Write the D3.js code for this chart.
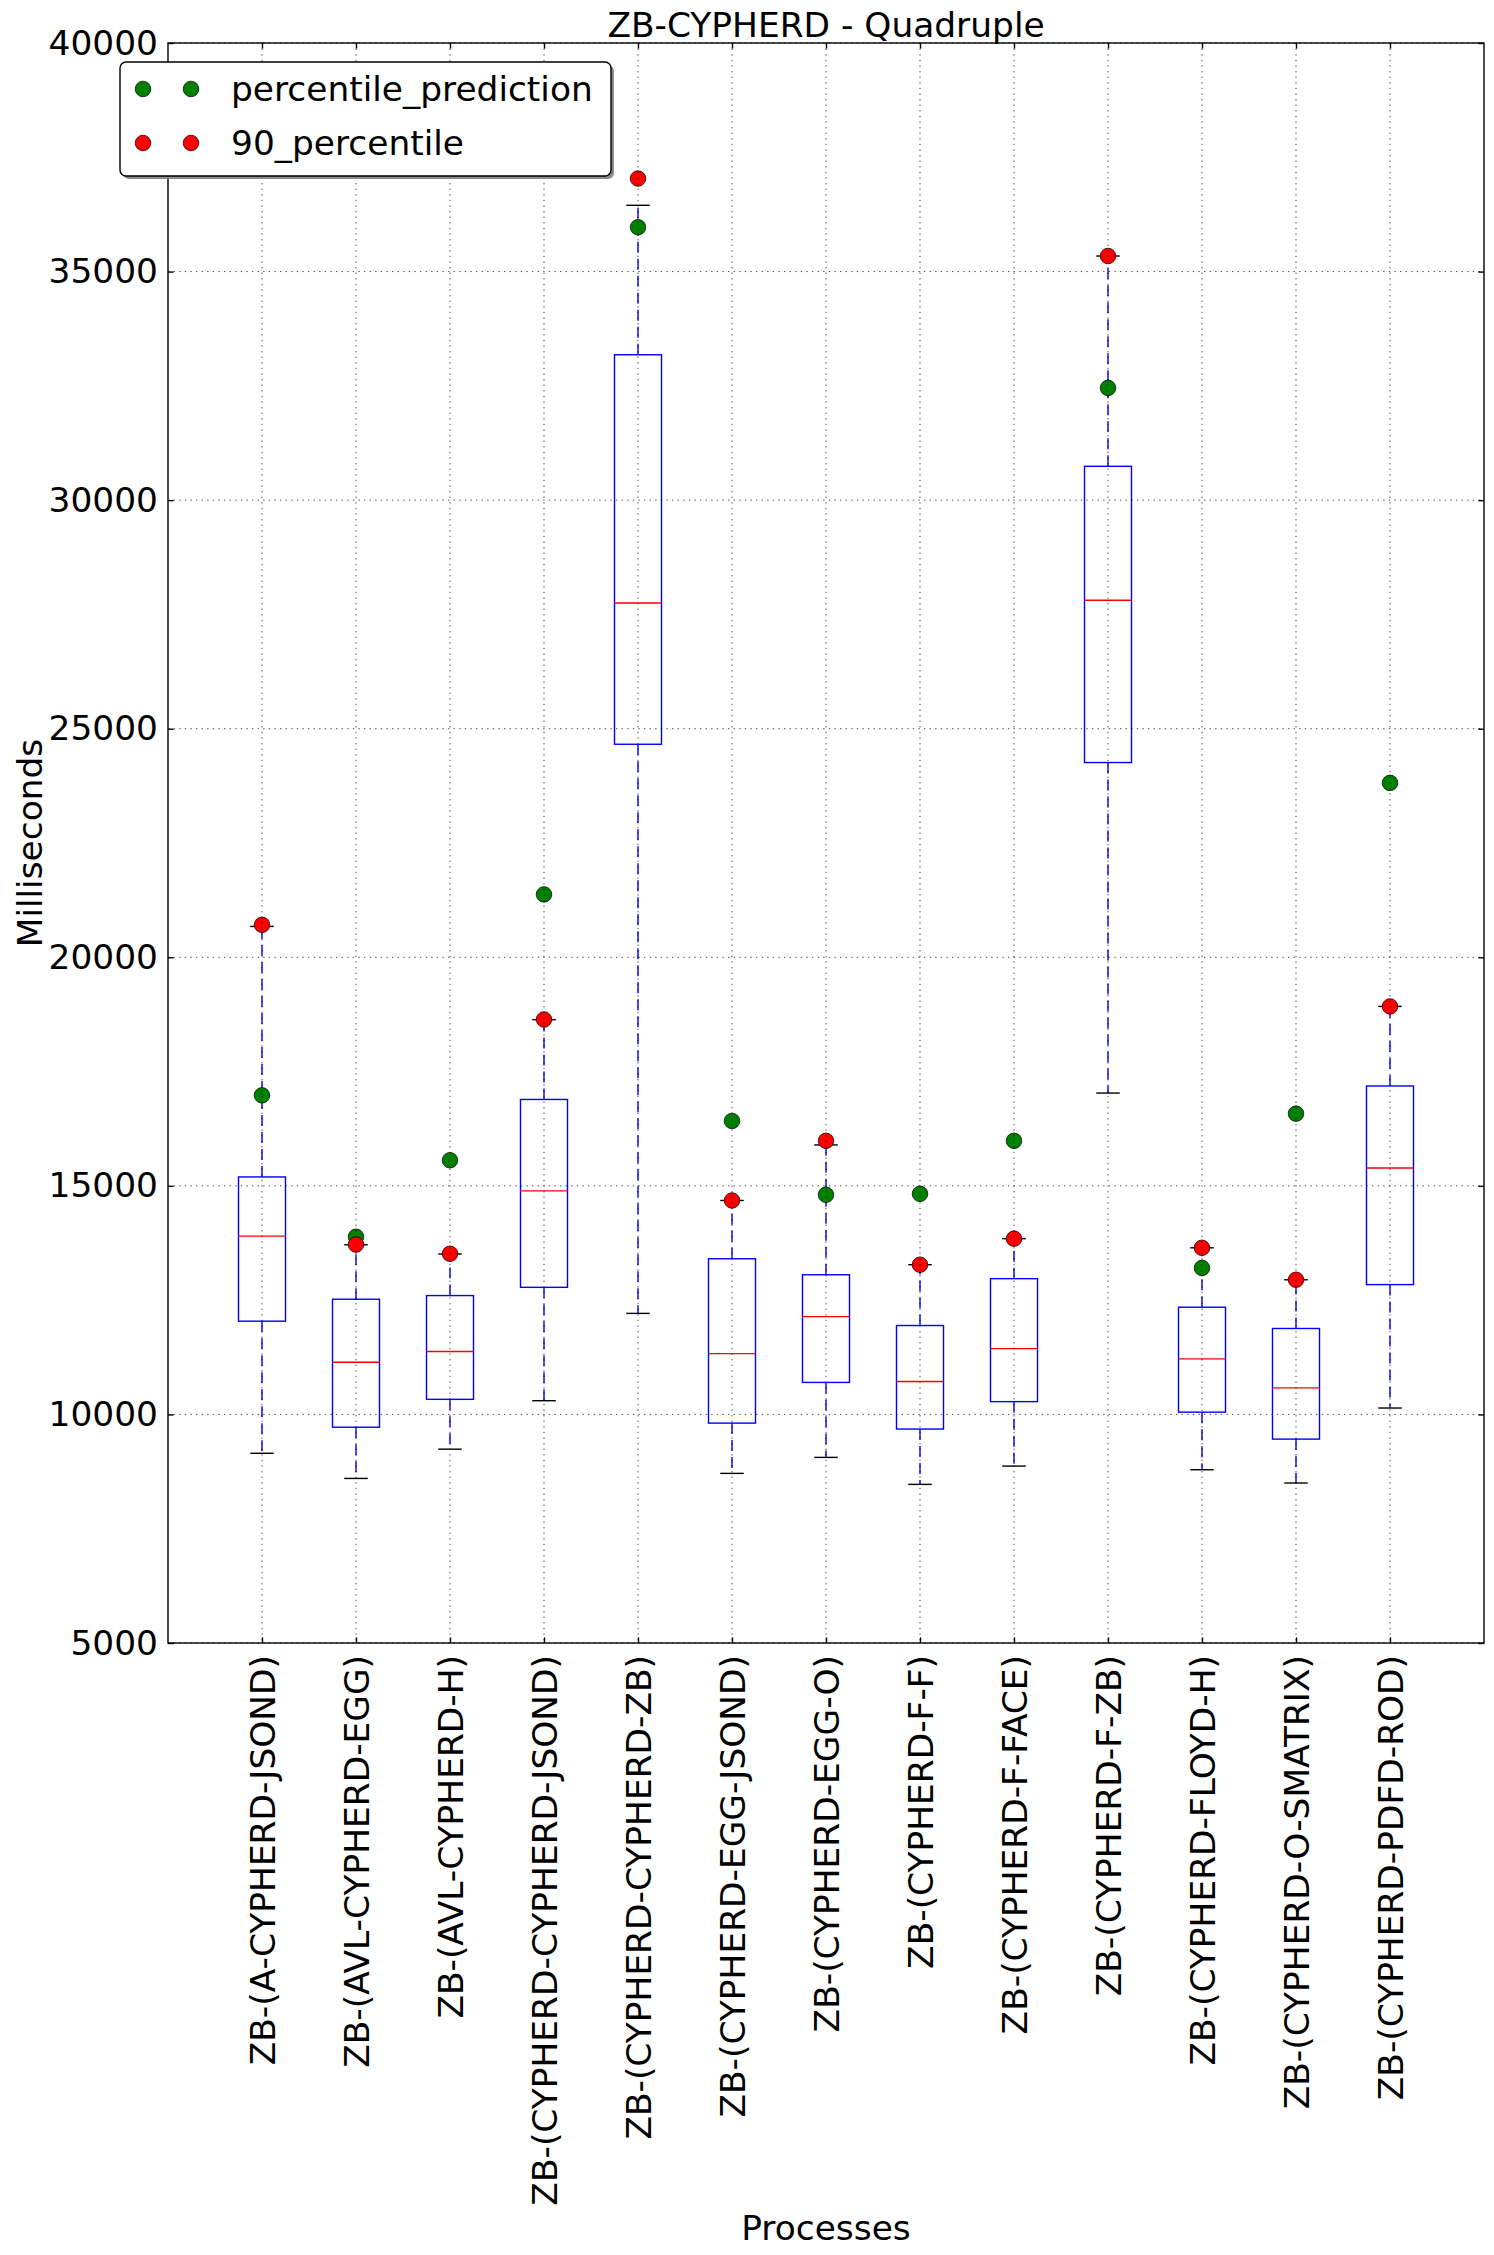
<!DOCTYPE html>
<html>
<head>
<meta charset="utf-8">
<script src="https://cdn.jsdelivr.net/npm/d3@7"></script>
<style>
  html, body { margin: 0; padding: 0; background: #fff; }
  svg { display: block; }
  text { font-family: "DejaVu Sans", sans-serif; fill: #000; }
</style>
</head>
<body>
<svg id="chart" width="1494" height="2255"></svg>
<script>
// ---- data ----
const categories = [
  "ZB-(A-CYPHERD-JSOND)",
  "ZB-(AVL-CYPHERD-EGG)",
  "ZB-(AVL-CYPHERD-H)",
  "ZB-(CYPHERD-CYPHERD-JSOND)",
  "ZB-(CYPHERD-CYPHERD-ZB)",
  "ZB-(CYPHERD-EGG-JSOND)",
  "ZB-(CYPHERD-EGG-O)",
  "ZB-(CYPHERD-F-F)",
  "ZB-(CYPHERD-F-FACE)",
  "ZB-(CYPHERD-F-ZB)",
  "ZB-(CYPHERD-FLOYD-H)",
  "ZB-(CYPHERD-O-SMATRIX)",
  "ZB-(CYPHERD-PDFD-ROD)"
];
const whiskerLow  = [9150, 8600, 9240, 10300, 12210, 8710, 9060, 8470, 8870, 17030, 8790, 8500, 10140];
const q1          = [12040, 9720, 10330, 12780, 24660, 9810, 10700, 9680, 10280, 24260, 10050, 9460, 12840];
const median      = [13900, 11140, 11375, 14890, 27750, 11330, 12140, 10720, 11440, 27810, 11215, 10580, 15390];
const q3          = [15195, 12520, 12600, 16890, 33180, 13405, 13055, 11945, 12970, 30740, 12345, 11880, 17185];
const whiskerHigh = [20675, 13710, 13510, 18635, 36450, 14680, 15895, 13275, 13845, 35340, 13645, 12945, 18925];
const prediction  = [16980, 13885, 15560, 21375, 35970, 16420, 14805, 14825, 15985, 32455, 13205, 16580, 23815];
const p90         = [20710, 13715, 13515, 18640, 37035, 14680, 15985, 13275, 13845, 35340, 13645, 12945, 18925];
const yTicks = [5000, 10000, 15000, 20000, 25000, 30000, 35000, 40000];
const titleText = "ZB-CYPHERD - Quadruple";
const xLabel = "Processes";
const yLabel = "Milliseconds";
const legendLabels = ["percentile_prediction", "90_percentile"];

// ---- layout ----
const L = 168, R = 1484, T = 43, B = 1643;
const FS = 34.4;
const LW = 1.4;
const svg = d3.select("#chart");

const x = d3.scaleLinear().domain([0, 14]).range([L, R]);
const y = d3.scaleLinear().domain([5000, 40000]).range([B, T]);

const idx = d3.range(categories.length);
const pos = i => x(i + 1);
const bw = x(0.5) - x(0);   // box width 0.5 units
const cw = x(0.25) - x(0);  // cap width 0.25 units

const marks = svg.append("g");

// whiskers
marks.selectAll(".wh-hi").data(idx).join("line")
  .attr("x1", pos).attr("x2", pos)
  .attr("y1", i => y(q3[i])).attr("y2", i => y(whiskerHigh[i]))
  .attr("stroke", "#0000ff").attr("stroke-width", LW).attr("stroke-dasharray", "11,6");
marks.selectAll(".wh-lo").data(idx).join("line")
  .attr("x1", pos).attr("x2", pos)
  .attr("y1", i => y(q1[i])).attr("y2", i => y(whiskerLow[i]))
  .attr("stroke", "#0000ff").attr("stroke-width", LW).attr("stroke-dasharray", "11,6");

// caps
[whiskerHigh, whiskerLow].forEach(arr => {
  marks.append("g").selectAll("line").data(idx).join("line")
    .attr("x1", i => pos(i) - cw / 2).attr("x2", i => pos(i) + cw / 2)
    .attr("y1", i => y(arr[i])).attr("y2", i => y(arr[i]))
    .attr("stroke", "#000").attr("stroke-width", LW);
});

// boxes
marks.append("g").selectAll("rect").data(idx).join("rect")
  .attr("x", i => pos(i) - bw / 2).attr("width", bw)
  .attr("y", i => y(q3[i])).attr("height", i => y(q1[i]) - y(q3[i]))
  .attr("fill", "none").attr("stroke", "#0000ff").attr("stroke-width", LW);

// medians
marks.append("g").selectAll("line").data(idx).join("line")
  .attr("x1", i => pos(i) - bw / 2).attr("x2", i => pos(i) + bw / 2)
  .attr("y1", i => y(median[i])).attr("y2", i => y(median[i]))
  .attr("stroke", "#ff0000").attr("stroke-width", LW);

// points
const R_DOT = 7.8;
marks.append("g").selectAll("circle").data(idx).join("circle")
  .attr("cx", pos).attr("cy", i => y(prediction[i])).attr("r", R_DOT)
  .attr("fill", "#008000").attr("stroke", "#000").attr("stroke-width", 0.7);
marks.append("g").selectAll("circle").data(idx).join("circle")
  .attr("cx", pos).attr("cy", i => y(p90[i])).attr("r", R_DOT)
  .attr("fill", "#ff0000").attr("stroke", "#000").attr("stroke-width", 0.7);

// grid (drawn above lines like matplotlib)
const grid = svg.append("g");
grid.selectAll(".gy").data(yTicks).join("line")
  .attr("x1", L).attr("x2", R).attr("y1", d => y(d)).attr("y2", d => y(d))
  .attr("stroke", "#000").attr("stroke-width", 0.7).attr("stroke-dasharray", "1.4,4.2");
grid.selectAll(".gx").data(idx).join("line")
  .attr("x1", pos).attr("x2", pos).attr("y1", T).attr("y2", B)
  .attr("stroke", "#000").attr("stroke-width", 0.7).attr("stroke-dasharray", "1.4,4.2");

// axes
const TL = 5.6;
const yAxis = svg.append("g").attr("transform", `translate(${L},0)`)
  .call(d3.axisLeft(y).tickValues(yTicks).tickFormat(d => String(d)).tickSize(-TL).tickPadding(10));
const yAxisR = svg.append("g").attr("transform", `translate(${R},0)`)
  .call(d3.axisRight(y).tickValues(yTicks).tickFormat("").tickSize(-TL));
const xAxis = svg.append("g").attr("transform", `translate(0,${B})`)
  .call(d3.axisBottom(x).tickValues(d3.range(1, categories.length + 1))
    .tickFormat(d => categories[d - 1]).tickSize(-TL));
const xAxisT = svg.append("g").attr("transform", `translate(0,${T})`)
  .call(d3.axisTop(x).tickValues(d3.range(1, categories.length + 1)).tickFormat("").tickSize(-TL));

[yAxis, yAxisR, xAxis, xAxisT].forEach(g => {
  g.select(".domain").remove();
  g.selectAll(".tick line").attr("stroke", "#000").attr("stroke-width", LW);
  g.selectAll("text").style("font-family", "DejaVu Sans").style("font-size", FS + "px").attr("fill", "#000");
});
xAxis.selectAll(".tick text")
  .attr("transform", "rotate(-90)")
  .attr("x", -12).attr("y", 0).attr("dy", "0.35em")
  .style("text-anchor", "end");

// frame
svg.append("rect").attr("x", L).attr("y", T).attr("width", R - L).attr("height", B - T)
  .attr("fill", "none").attr("stroke", "#000").attr("stroke-width", LW);

// title & labels
svg.append("text").attr("x", (L + R) / 2).attr("y", 37)
  .attr("text-anchor", "middle").style("font-size", FS + "px").text(titleText);
svg.append("text").attr("x", (L + R) / 2).attr("y", 2240)
  .attr("text-anchor", "middle").style("font-size", FS + "px").text(xLabel);
svg.append("text").attr("transform", `translate(42,${(T + B) / 2}) rotate(-90)`)
  .attr("text-anchor", "middle").style("font-size", FS + "px").text(yLabel);

// legend
const lg = svg.append("g");
const lx = 120, ly = 62, lw = 491, lh = 114;
lg.append("rect").attr("x", lx + 3).attr("y", ly + 3).attr("width", lw).attr("height", lh)
  .attr("rx", 6).attr("fill", "#808080").attr("opacity", 0.9);
lg.append("rect").attr("x", lx).attr("y", ly).attr("width", lw).attr("height", lh)
  .attr("rx", 6).attr("fill", "#fff").attr("stroke", "#000").attr("stroke-width", LW);
const legColors = ["#008000", "#ff0000"];
legendLabels.forEach((lab, k) => {
  const ry = 89 + k * 54;
  [143, 191].forEach(mx => {
    lg.append("circle").attr("cx", mx).attr("cy", ry).attr("r", R_DOT)
      .attr("fill", legColors[k]).attr("stroke", "#000").attr("stroke-width", 0.7);
  });
  lg.append("text").attr("x", 231).attr("y", ry).attr("dy", "0.35em")
    .style("font-size", FS + "px").text(lab);
});
</script>
</body>
</html>
